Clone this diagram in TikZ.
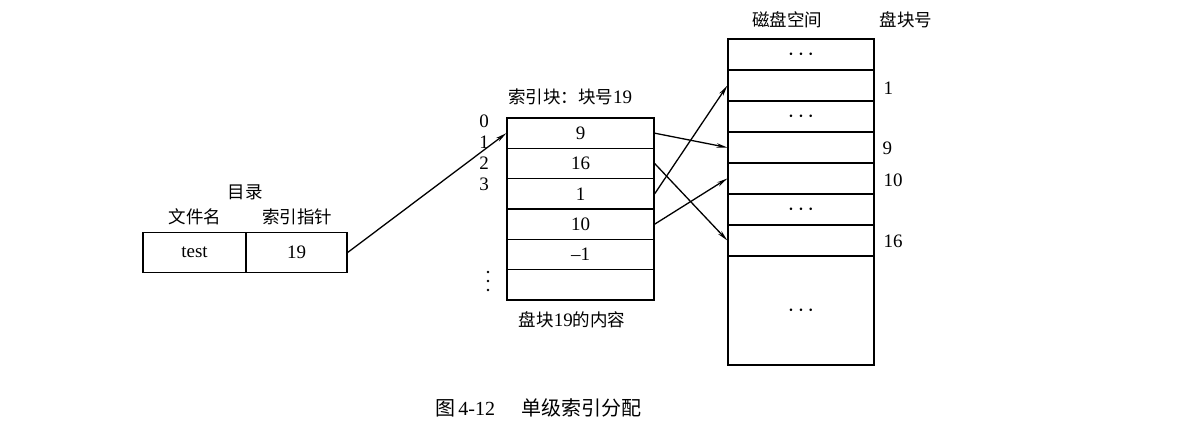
\documentclass[tikz,border=0pt]{standalone}
\usepackage{fontspec}
\setmainfont{Liberation Serif}
\newfontfamily\cjk{Noto Sans CJK SC}
\usetikzlibrary{arrows.meta}
\newcommand{\hdots}{{\fontsize{26}{26}\selectfont${\cdot}\hspace{3pt}{\cdot}\hspace{3pt}{\cdot}$}}
\begin{document}
\begin{tikzpicture}[x=1pt,y=-1pt,
  font=\fontsize{19}{21}\selectfont,
  line width=1.3pt,
  cell/.style={draw, inner sep=0pt, line width=1.3pt},
  icell/.style={cell, minimum width=147pt, minimum height=30.33pt},
  kcell/.style={cell, minimum width=146pt, minimum height=31pt},
  dcell/.style={cell, minimum height=40pt},
  lbl/.style={inner sep=0pt},
  cjkl/.style={lbl, font=\fontsize{17.5}{19}\selectfont\cjk},
  arr/.style={-{Stealth[length=11pt,width=4.5pt]}, line width=1.3pt}]
\useasboundingbox (0,0) rectangle (1180,431);
% directory
\node[cjkl] (dirt) at (245,192) {目录};
\node[cjkl] (dh0) at (195,217) {文件名};
\node[cjkl] (dh1) at (297,217) {索引指针};
\node[dcell, minimum width=103pt] (d0) at (194.5,252.5) {test};
\node[dcell, minimum width=101pt] (d1) at (296.5,252.5) {19};
% index block
\node[lbl] (it) at (570,97) {{\cjk\fontsize{17.5}{19}\selectfont 索引块：块号}19};
\node[icell] (i0) at (580.5,133.17) {9};
\node[icell] (i1) at (580.5,163.5) {16};
\node[icell] (i2) at (580.5,193.83) {1};
\node[icell] (i3) at (580.5,224.17) {10};
\node[icell] (i4) at (580.5,254.5) {\textendash1};
\node[icell] (i5) at (580.5,284.83) {};
\node[lbl] (n0) at (484,121) {0};
\node[lbl] (n1) at (484,142) {1};
\node[lbl] (n2) at (484,163) {2};
\node[lbl] (n3) at (484,184) {3};
\foreach \yy in {272,281,290} \fill (488,\yy) circle (1.3pt);
\node[lbl] (ic) at (572,320) {{\cjk\fontsize{17.5}{19}\selectfont 盘块}19{\cjk\fontsize{17.5}{19}\selectfont 的内容}};
% disk
\node[cjkl] (kt) at (787,20) {磁盘空间};
\node[cjkl] (kn) at (906,20) {盘块号};
\node[kcell] (k0) at (801,54.5) {\hdots};
\node[kcell] (k1) at (801,85.5) {};
\node[kcell] (k2) at (801,116.5) {\hdots};
\node[kcell] (k3) at (801,147.5) {};
\node[kcell] (k4) at (801,178.5) {};
\node[kcell] (k5) at (801,209.5) {\hdots};
\node[kcell] (k6) at (801,240.5) {};
\node[cell, minimum width=146pt, minimum height=109pt] (k7) at (801,310.5) {\hdots};
\node[lbl, anchor=west] (l1) at (883,88) {1};
\node[lbl, anchor=west] (l9) at (882,148) {9};
\node[lbl, anchor=west] (l10) at (883,180) {10};
\node[lbl, anchor=west] (l16) at (883,241) {16};
% connectors
\draw[arr] (d1.east) -- (i0.west);
\draw[arr] (i0.east) -- (k3.west);
\draw[arr] (i1.east) -- (k6.west);
\draw[arr] (i2.east) -- (k1.west);
\draw[arr] (i3.east) -- (k4.west);
% caption
\node[lbl] (cap) at (538,408) {\fontsize{20}{22}\selectfont{\cjk 图}\,4-12\hspace{1.3em}{\cjk 单级索引分配}};
\end{tikzpicture}
\end{document}
